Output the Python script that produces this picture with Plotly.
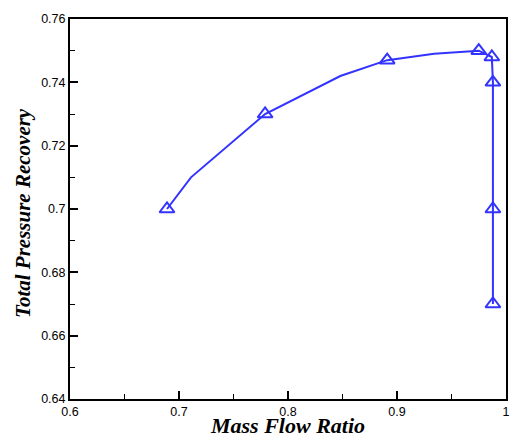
import plotly.graph_objects as go

# Data
mass_flow_ratio = [0.689, 0.711, 0.779, 0.848, 0.891, 0.934, 0.975, 0.987, 0.988, 0.988, 0.988]
total_pressure = [0.700, 0.710, 0.730, 0.742, 0.747, 0.749, 0.750, 0.748, 0.740, 0.700, 0.670]
has_marker = [True, False, True, False, True, False, True, True, True, True, True]

x_tick_vals = [0.6, 0.7, 0.8, 0.9, 1.0]
x_tick_text = ["0.6", "0.7", "0.8", "0.9", "1"]
y_tick_vals = [0.64, 0.66, 0.68, 0.70, 0.72, 0.74, 0.76]
y_tick_text = ["0.64", "0.66", "0.68", "0.7", "0.72", "0.74", "0.76"]
x_title = "Mass Flow Ratio"
y_title = "Total Pressure Recovery"

blue = "#3333ff"

mx = [x for x, m in zip(mass_flow_ratio, has_marker) if m]
my = [y for y, m in zip(total_pressure, has_marker) if m]

fig = go.Figure()
fig.add_trace(go.Scatter(x=mass_flow_ratio, y=total_pressure, mode="lines",
                         line=dict(color=blue, width=2), showlegend=False))
fig.add_trace(go.Scatter(x=mx, y=my, mode="markers",
                         marker=dict(symbol="triangle-up-open", size=13, color=blue,
                                     line=dict(color=blue, width=2)),
                         showlegend=False))

axis_common = dict(showgrid=False, zeroline=False, showline=True, linecolor="black",
                   linewidth=2, mirror=True, ticks="inside", ticklen=8, tickwidth=2,
                   tickcolor="black", automargin=False,
                   tickfont=dict(family="Liberation Sans, Arial", size=12.5, color="black"))

fig.update_layout(
    width=510, height=436,
    margin=dict(l=70, r=4, t=19, b=37),
    paper_bgcolor="white", plot_bgcolor="white",
    xaxis=dict(range=[0.6, 1.0], tickvals=x_tick_vals, ticktext=x_tick_text,
               minor=dict(ticks="inside", ticklen=5, tickwidth=1, dtick=0.05, tickcolor="black"),
               **axis_common),
    yaxis=dict(range=[0.64, 0.76], tickvals=y_tick_vals, ticktext=y_tick_text,
               minor=dict(ticks="inside", ticklen=5, tickwidth=1, dtick=0.01, tickcolor="black"),
               **axis_common),
    annotations=[
        dict(text=f"<b><i>{x_title}</i></b>", xref="paper", yref="paper", x=0.5, y=0,
             xanchor="center", yanchor="middle", yshift=-26, xshift=-1,
             showarrow=False,
             font=dict(family="Liberation Serif, Times New Roman", size=22, color="black")),
        dict(text=f"<b><i>{y_title}</i></b>", xref="paper", yref="paper", x=0, y=0.5,
             xanchor="center", yanchor="middle", xshift=-47, yshift=-4, textangle=-90,
             showarrow=False,
             font=dict(family="Liberation Serif, Times New Roman", size=21, color="black")),
    ],
)

fig.write_html("out.html")
